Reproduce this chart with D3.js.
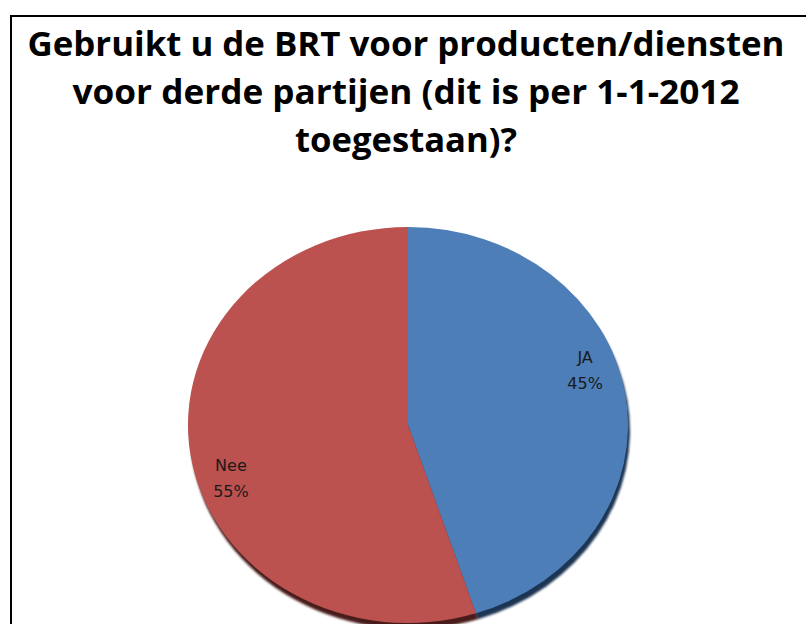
<!DOCTYPE html>
<meta charset="utf-8">
<style>
body { margin: 0; background: #fff; }
.title { font-family: "Open Sans", sans-serif; font-weight: 700; font-size: 34px; fill: #000; }
.label { font-family: "DejaVu Sans", sans-serif; font-size: 16px; fill: #1a1a1a; }
</style>
<svg width="806" height="624"></svg>
<script src="https://cdn.jsdelivr.net/npm/d3@7"></script>
<script>

var svg = d3.select("svg"),
    width = +svg.attr("width"),
    height = +svg.attr("height");

// data
var categories = ["JA", "Nee"];
var values = [45, 55];
var colors = ["#4d7eb8", "#bb524f"];
var shadowColors = ["#1c3452", "#4a1d1b"];
var titleLines = [
  "Gebruikt u de BRT voor producten/diensten",
  "voor derde partijen (dit is per 1-1-2012",
  "toegestaan)?"
];

// chart frame (runs off the right and bottom edge)
svg.append("rect")
    .attr("x", 11).attr("y", 16)
    .attr("width", 900).attr("height", 700)
    .attr("fill", "none")
    .attr("stroke", "#000")
    .attr("stroke-width", 2);

// title
var titleWidths = [757, 667, 222];
svg.selectAll(".title")
  .data(titleLines)
  .enter().append("text")
    .attr("class", "title")
    .attr("x", 406)
    .attr("y", function(d, i) { return 56 + i * 48; })
    .attr("text-anchor", "middle")
    .attr("textLength", function(d, i) { return titleWidths[i]; })
    .attr("lengthAdjust", "spacingAndGlyphs")
    .text(function(d) { return d; });

// pie (drawn as a circle, squashed into an ellipse)
var cx = 408, cy = 425, rx = 220, ry = 198;

var pie = d3.pie().sort(null).value(function(d) { return d.value; });
var arcs = pie(categories.map(function(c, i) { return {name: c, value: values[i], i: i}; }));

var arc = d3.arc().innerRadius(0).outerRadius(rx);

var defs = svg.append("defs");
defs.append("filter").attr("id", "blur")
    .attr("x", "-10%").attr("y", "-10%").attr("width", "120%").attr("height", "120%")
  .append("feGaussianBlur").attr("stdDeviation", 1.2);

// shadow / side of the disc
svg.append("g")
    .attr("transform", "translate(" + (cx + 2) + "," + (cy + 6) + ") scale(1," + (ry / rx) + ")")
    .attr("filter", "url(#blur)")
  .selectAll("path")
  .data(arcs)
  .enter().append("path")
    .attr("d", arc)
    .attr("fill", function(d) { return shadowColors[d.data.i]; });

svg.append("g")
    .attr("transform", "translate(" + cx + "," + cy + ") scale(1," + (ry / rx) + ")")
  .selectAll("path")
  .data(arcs)
  .enter().append("path")
    .attr("d", arc)
    .attr("fill", function(d) { return colors[d.data.i]; });

// labels
var labelR = 0.85 * rx;
var labels = svg.append("g").selectAll("text")
  .data(arcs)
  .enter().append("text")
    .attr("class", "label")
    .attr("text-anchor", "middle")
    .attr("transform", function(d) {
      var a = (d.startAngle + d.endAngle) / 2 - 0.17;
      var x = cx + labelR * Math.sin(a);
      var y = cy - labelR * Math.cos(a) * (ry / rx);
      return "translate(" + x + "," + y + ")";
    });

labels.append("tspan")
    .attr("x", 0).attr("y", -8)
    .text(function(d) { return d.data.name; });
labels.append("tspan")
    .attr("x", 0).attr("y", 18)
    .text(function(d) { return d.data.value + "%"; });

</script>
